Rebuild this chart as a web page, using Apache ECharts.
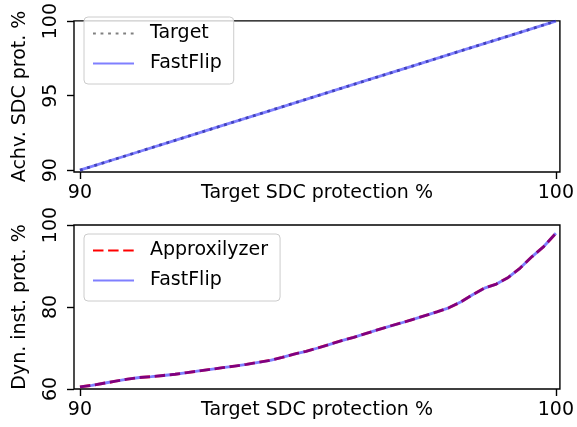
<!DOCTYPE html>
<html>
<head>
<meta charset="utf-8">
<script src="https://cdn.jsdelivr.net/npm/echarts@6/dist/echarts.min.js"></script>
<style>html,body{margin:0;padding:0;background:#fff}#c{width:577px;height:427px}</style>
</head>
<body>
<div id="c"></div>
<script>
// ---- data ----
const topX = [90, 91, 92, 93, 94, 95, 96, 97, 98, 99, 100];
const targetY = [90, 91, 92, 93, 94, 95, 96, 97, 98, 99, 100];
const fastflipTopY = [90, 91, 92, 93, 94, 95, 96, 97, 98, 99, 100];

const bottomX = [90, 90.25, 90.5, 90.75, 91, 91.25, 91.5, 91.75, 92, 92.25, 92.5, 92.75, 93, 93.25, 93.5, 93.75,
  94, 94.25, 94.5, 94.75, 95, 95.25, 95.5, 95.75, 96, 96.25, 96.5, 96.75, 97, 97.25, 97.5, 97.75,
  98, 98.25, 98.5, 98.75, 99, 99.25, 99.5, 99.75, 100];
const approxY = [60.5, 60.9, 61.4, 61.9, 62.4, 62.8, 63.0, 63.3, 63.6, 64.0, 64.4, 64.8, 65.2, 65.6, 66.0, 66.5,
  67.0, 67.7, 68.5, 69.2, 70.0, 70.9, 71.8, 72.6, 73.5, 74.4, 75.3, 76.1, 77.0, 77.9, 78.8, 79.8,
  81.2, 83.0, 84.6, 85.6, 87.2, 89.5, 92.3, 94.8, 98.0];
const fastflipBottomY = [60.5, 60.9, 61.4, 61.9, 62.4, 62.8, 63.0, 63.3, 63.6, 64.0, 64.4, 64.8, 65.2, 65.6, 66.0, 66.5,
  67.0, 67.7, 68.5, 69.2, 70.0, 70.9, 71.8, 72.6, 73.5, 74.4, 75.3, 76.1, 77.0, 77.9, 78.8, 79.8,
  81.2, 83.0, 84.6, 85.6, 87.2, 89.5, 92.3, 94.8, 98.0];

const xTicks = [90, 100];
const topYTicks = [90, 95, 100];
const bottomYTicks = [60, 80, 100];
const xName = 'Target SDC protection %';
const topYName = 'Achv. SDC prot. %';
const bottomYName = 'Dyn. inst. prot. %';

// ---- chart ----
const FONT = 'DejaVu Sans';
const LW = 2.85;
const zip = (xs, ys) => xs.map((x, i) => [x, ys[i]]);

function xAxisDef(gi) {
  return {
    gridIndex: gi, type: 'value', min: 89.875, max: 100.085,
    axisLine: { show: false }, splitLine: { show: false },
    axisTick: { show: true, customValues: xTicks, length: 7, lineStyle: { color: '#000', width: 1.4 } },
    axisLabel: { customValues: xTicks, fontSize: 19, color: '#000', fontFamily: FONT, margin: 12 },
    name: xName, nameLocation: 'middle', nameGap: 12, nameMoveOverlap: false,
    nameTextStyle: { fontSize: 19, color: '#000', fontFamily: FONT }
  };
}
function yAxisDef(gi, min, max, ticks, name) {
  return {
    gridIndex: gi, type: 'value', min: min, max: max,
    axisLine: { show: false }, splitLine: { show: false },
    axisTick: { show: true, customValues: ticks, length: 7, lineStyle: { color: '#000', width: 1.4 } },
    axisLabel: { customValues: ticks, fontSize: 19, color: '#000', fontFamily: FONT, margin: 13, rotate: 90 },
    name: name, nameLocation: 'middle', nameGap: 44, nameMoveOverlap: false,
    nameTextStyle: { fontSize: 19, color: '#000', fontFamily: FONT }
  };
}
function legendDef(top, names) {
  return {
    left: 84, top: top, orient: 'vertical', data: names,
    itemWidth: 41, itemHeight: 19, itemGap: 11,
    padding: [7, 12, 11, 8],
    backgroundColor: 'rgba(255,255,255,0.8)', borderColor: '#cccccc', borderWidth: 1, borderRadius: 4,
    itemStyle: { opacity: 0 },
    textStyle: { fontSize: 19, color: '#000', fontFamily: FONT, padding: [0, 0, 0, 11] },
    selectedMode: false
  };
}

const chart = echarts.init(document.getElementById('c'), null, { renderer: 'canvas' });
chart.setOption({
  animation: false,
  backgroundColor: '#fff',
  textStyle: { fontFamily: FONT },
  grid: [
    { left: 74, top: 9, width: 489, height: 163, show: true, borderColor: '#000', borderWidth: 1.4, backgroundColor: 'transparent' },
    { left: 74, top: 225, width: 489, height: 164, show: true, borderColor: '#000', borderWidth: 1.4, backgroundColor: 'transparent' }
  ],
  xAxis: [xAxisDef(0), xAxisDef(1)],
  yAxis: [
    yAxisDef(0, 89.875, 100.02, topYTicks, topYName),
    yAxisDef(1, 60, 100, bottomYTicks, bottomYName)
  ],
  legend: [legendDef(17, ['Target', 'FastFlip']), legendDef(234, ['Approxilyzer', 'FastFlip'])],
  series: [
    { name: 'Target', type: 'line', xAxisIndex: 0, yAxisIndex: 0, data: zip(topX, targetY),
      symbol: 'none', color: '#808080', lineStyle: { color: '#808080', width: LW, type: [2.85, 4.7] } },
    { name: 'FastFlip', type: 'line', xAxisIndex: 0, yAxisIndex: 0, data: zip(topX, fastflipTopY),
      symbol: 'none', color: 'rgba(0,0,255,0.5)', lineStyle: { color: 'rgba(0,0,255,0.5)', width: LW, type: 'solid' } },
    { name: 'Approxilyzer', type: 'line', xAxisIndex: 1, yAxisIndex: 1, data: zip(bottomX, approxY),
      symbol: 'none', color: '#ff0000', lineStyle: { color: '#ff0000', width: LW, type: [10.5, 4.6] } },
    { name: 'FastFlip', type: 'line', xAxisIndex: 1, yAxisIndex: 1, data: zip(bottomX, fastflipBottomY),
      symbol: 'none', color: 'rgba(0,0,255,0.5)', lineStyle: { color: 'rgba(0,0,255,0.5)', width: LW, type: 'solid' } }
  ]
});
</script>
</body>
</html>
